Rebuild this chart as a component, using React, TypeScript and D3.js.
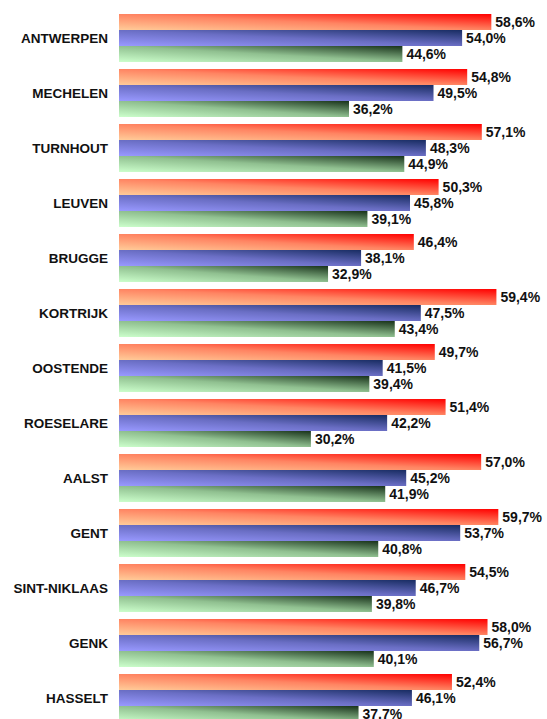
import React, { useRef, useEffect } from "react";
import * as d3 from "d3";

const cities = [
  "ANTWERPEN",
  "MECHELEN",
  "TURNHOUT",
  "LEUVEN",
  "BRUGGE",
  "KORTRIJK",
  "OOSTENDE",
  "ROESELARE",
  "AALST",
  "GENT",
  "SINT-NIKLAAS",
  "GENK",
  "HASSELT",
];

const seriesKeys = ["rood", "blauw", "groen"];

const redValues = [58.6, 54.8, 57.1, 50.3, 46.4, 59.4, 49.7, 51.4, 57.0, 59.7, 54.5, 58.0, 52.4];
const blueValues = [54.0, 49.5, 48.3, 45.8, 38.1, 47.5, 41.5, 42.2, 45.2, 53.7, 46.7, 56.7, 46.1];
const greenValues = [44.6, 36.2, 44.9, 39.1, 32.9, 43.4, 39.4, 30.2, 41.9, 40.8, 39.8, 40.1, 37.7];

// gradient stops: bottom-left -> middle -> top-right
const gradients = {
  rood: ["#ffcc99", "#ff8462", "#ff0000"],
  blauw: ["#9999ff", "#6a6ec4", "#182c62"],
  groen: ["#ccffcc", "#90c090", "#18321a"],
};

const width = 547;
const height = 719;

function App() {
  const svgRef = useRef();

  useEffect(() => {
    const svg = d3.select(svgRef.current);
    svg.selectAll("*").remove();

    const data = cities.map((c, i) => ({
      city: c,
      rood: redValues[i],
      blauw: blueValues[i],
      groen: greenValues[i],
    }));

    const x = d3.scaleLinear().domain([0, 65]).range([119, 532]);

    const y = d3
      .scaleBand()
      .domain(cities)
      .range([14, 14 + 55 * 13 - 7])
      .paddingInner(7 / 55)
      .paddingOuter(0);

    const ySub = d3.scaleBand().domain(seriesKeys).range([0, y.bandwidth()]);

    const defs = svg.append("defs");
    seriesKeys.forEach((k) => {
      const g = defs
        .append("linearGradient")
        .attr("id", `grad-${k}`)
        .attr("x1", 0)
        .attr("y1", 1)
        .attr("x2", 1)
        .attr("y2", 0);
      gradients[k].forEach((col, i) => {
        g.append("stop")
          .attr("offset", i / (gradients[k].length - 1))
          .attr("stop-color", col);
      });
    });

    const fmt = (v) => d3.format(".1f")(v).replace(".", ",") + "%";

    const groups = svg
      .append("g")
      .selectAll("g")
      .data(data)
      .join("g")
      .attr("transform", (d) => `translate(0,${y(d.city)})`);

    groups
      .append("text")
      .attr("x", 108)
      .attr("y", y.bandwidth() / 2)
      .attr("dy", "0.36em")
      .attr("text-anchor", "end")
      .attr("font-family", "'Liberation Sans', Arial, sans-serif")
      .attr("font-weight", "bold")
      .attr("font-size", 13.5)
      .attr("fill", "#111")
      .text((d) => d.city);

    groups
      .selectAll("rect")
      .data((d) => seriesKeys.map((k) => ({ key: k, value: d[k] })))
      .join("rect")
      .attr("x", x(0))
      .attr("y", (d) => ySub(d.key))
      .attr("width", (d) => x(d.value) - x(0))
      .attr("height", ySub.bandwidth())
      .attr("fill", (d) => `url(#grad-${d.key})`);

    groups
      .selectAll("text.val")
      .data((d) => seriesKeys.map((k) => ({ key: k, value: d[k] })))
      .join("text")
      .attr("class", "val")
      .attr("x", (d) => x(d.value) + 4)
      .attr("y", (d) => ySub(d.key) + ySub.bandwidth() / 2)
      .attr("dy", "0.36em")
      .attr("font-family", "'Liberation Sans', Arial, sans-serif")
      .attr("font-weight", "bold")
      .attr("font-size", 14)
      .attr("fill", "#111")
      .text((d) => fmt(d.value));
  }, []);

  return (
    <svg
      ref={svgRef}
      width={width}
      height={height}
      style={{ position: "absolute", left: 0, top: 0, background: "#fff" }}
    ></svg>
  );
}

export default App;
